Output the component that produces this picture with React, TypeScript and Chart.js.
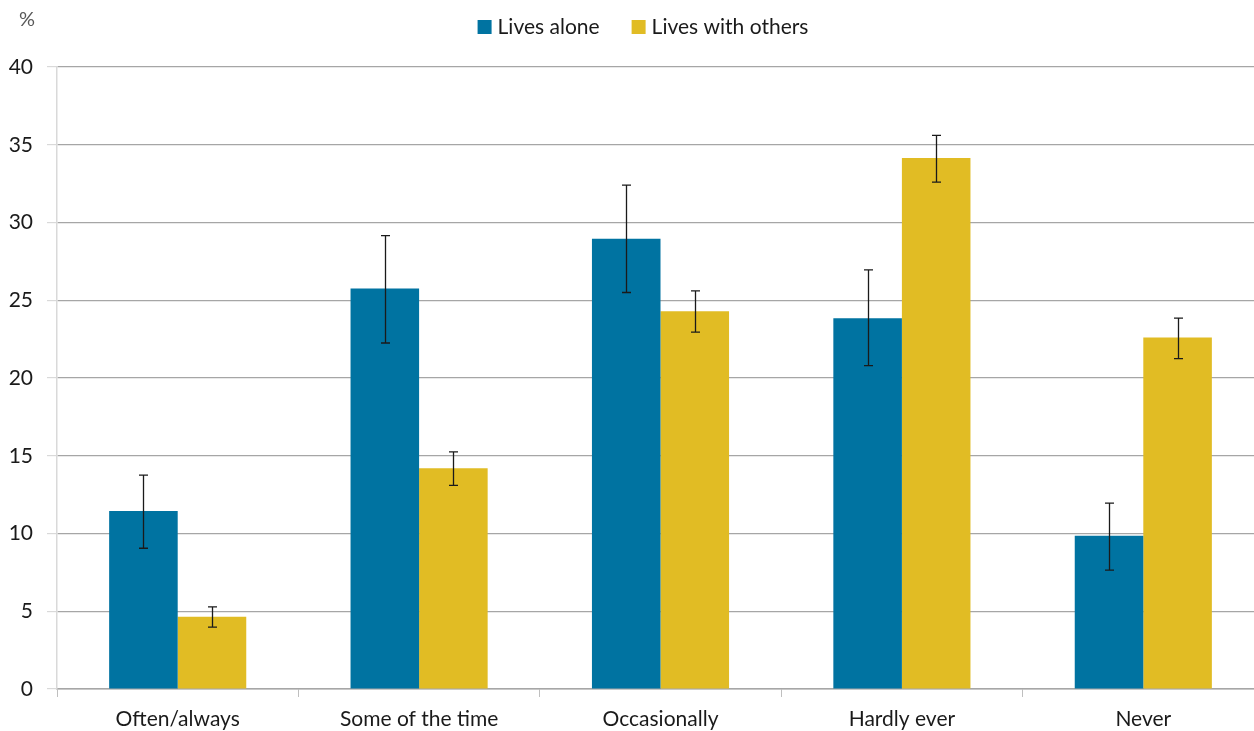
import React, { useEffect, useRef } from "react";
import { Chart, registerables } from "chart.js";

Chart.register(...registerables);

const categories = ["Often/always", "Some of the time", "Occasionally", "Hardly ever", "Never"];
const seriesNames = ["Lives alone", "Lives with others"];
const livesAlone = [11.45, 25.75, 28.95, 23.85, 9.85];
const livesAloneLow = [9.05, 22.25, 25.5, 20.8, 7.65];
const livesAloneHigh = [13.75, 29.15, 32.4, 26.95, 11.95];
const livesWithOthers = [4.65, 14.2, 24.3, 34.15, 22.6];
const livesWithOthersLow = [3.98, 13.1, 22.95, 32.6, 21.25];
const livesWithOthersHigh = [5.28, 15.25, 25.6, 35.6, 23.85];
const yTicks = [0, 5, 10, 15, 20, 25, 30, 35, 40];
const seriesColors = ["#0073A1", "#E1BC24"];

const FONT = "Lato, 'Open Sans', 'DejaVu Sans', sans-serif";

export default function App() {
  const ref = useRef<HTMLCanvasElement | null>(null);
  useEffect(() => {
    document.body.style.margin = "0";
    document.body.style.overflow = "hidden";
    const canvas = ref.current;
    if (!canvas) return;
    const errs = [
      [livesAloneLow, livesAloneHigh],
      [livesWithOthersLow, livesWithOthersHigh],
    ];
    const errorBars = {
      id: "errorBars",
      afterDatasetsDraw(chart: any) {
        const ctx = chart.ctx;
        const y = chart.scales.y;
        ctx.save();
        ctx.strokeStyle = "#1a1a1a";
        ctx.lineWidth = 1.3;
        chart.data.datasets.forEach((_: any, di: number) => {
          const meta = chart.getDatasetMeta(di);
          meta.data.forEach((bar: any, i: number) => {
            const x = Math.round(bar.x) + 0.5;
            const lo = y.getPixelForValue(errs[di][0][i]);
            const hi = y.getPixelForValue(errs[di][1][i]);
            ctx.beginPath();
            ctx.moveTo(x, lo);
            ctx.lineTo(x, hi);
            ctx.moveTo(x - 4.5, lo);
            ctx.lineTo(x + 4.5, lo);
            ctx.moveTo(x - 4.5, hi);
            ctx.lineTo(x + 4.5, hi);
            ctx.stroke();
          });
        });
        ctx.restore();
      },
    };
    const customLegend = {
      id: "customLegend",
      afterDraw(chart: any) {
        const ctx = chart.ctx;
        ctx.save();
        ctx.font = `21px ${FONT}`;
        ctx.textBaseline = "middle";
        ctx.textAlign = "left";
        const box = 14;
        const gapText = 6;
        const gapItem = 32;
        const widths = seriesNames.map((s) => ctx.measureText(s).width);
        const total =
          widths.reduce((a, b) => a + b, 0) + seriesNames.length * (box + gapText) + gapItem * (seriesNames.length - 1);
        let x = 643 - total / 2;
        const cy = 27;
        seriesNames.forEach((name, i) => {
          ctx.fillStyle = seriesColors[i];
          ctx.fillRect(x, cy - box / 2, box, box);
          x += box + gapText;
          ctx.fillStyle = "#1a1a1a";
          ctx.fillText(name, x, cy);
          x += widths[i] + gapItem;
        });
        ctx.fillStyle = "#595959";
        ctx.font = `20px ${FONT}`;
        ctx.textAlign = "center";
        ctx.fillText("%", 27, 20);
        ctx.restore();
      },
    };
    const chart = new Chart(canvas, {
      type: "bar",
      data: {
        labels: categories,
        datasets: [
          {
            label: seriesNames[0],
            data: livesAlone,
            backgroundColor: seriesColors[0],
            categoryPercentage: 0.568,
            barPercentage: 1,
          },
          {
            label: seriesNames[1],
            data: livesWithOthers,
            backgroundColor: seriesColors[1],
            categoryPercentage: 0.568,
            barPercentage: 1,
          },
        ],
      },
      options: {
        animation: false,
        responsive: false,
        layout: { padding: { top: 67, left: 0, right: 0, bottom: 0 } },
        plugins: {
          legend: { display: false },
          tooltip: { enabled: false },
        },
        scales: {
          x: {
            afterFit(scale: any) {
              scale.height = 42;
            },
            grid: {
              offset: true,
              drawOnChartArea: false,
              color: "#bfbfbf",
              tickLength: 8,
            },
            border: { color: "#a6a6a6", width: 1.5 },
            ticks: {
              font: { family: FONT, size: 21 },
              color: "#1a1a1a",
              padding: 10,
            },
          },
          y: {
            min: 0,
            max: 40,
            afterBuildTicks(scale: any) {
              scale.ticks = yTicks.map((v) => ({ value: v }));
            },
            afterFit(scale: any) {
              scale.width = 57;
            },
            grid: {
              color: "#a6a6a6",
              lineWidth: 1.2,
              tickLength: 10,
              tickColor: "#d9d9d9",
            },
            border: { color: "#d9d9d9", width: 1.5 },
            ticks: {
              font: { family: FONT, size: 21 },
              color: "#1a1a1a",
              padding: 14,
            },
          },
        },
      },
      plugins: [errorBars, customLegend],
    });
    return () => chart.destroy();
  }, []);
  return (
    <div style={{ width: 1254, height: 731, overflow: "hidden" }}>
      <canvas ref={ref} width={1264} height={731} style={{ display: "block" }} />
    </div>
  );
}
